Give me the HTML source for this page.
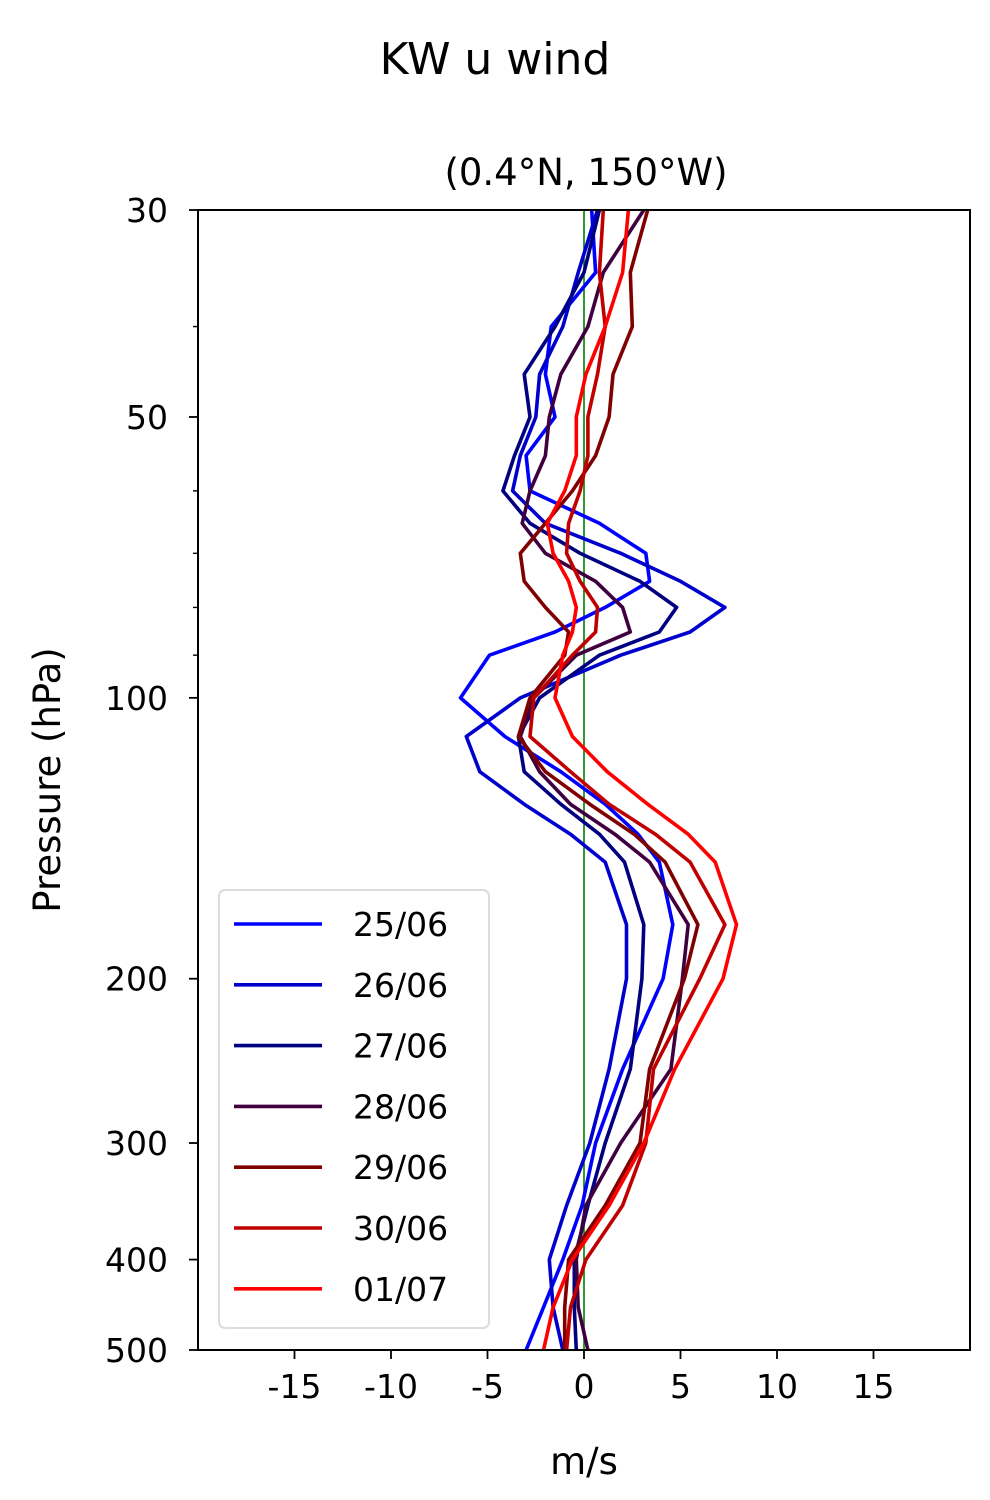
<!DOCTYPE html>
<html><head><meta charset="utf-8">
<style>
html,body{margin:0;padding:0;background:#fff;}
svg{display:block;font-family:"DejaVu Sans","Liberation Sans",sans-serif;}
</style></head>
<body>
<svg id="chart" width="990" height="1500" viewBox="0 0 990 1500" xmlns="http://www.w3.org/2000/svg">
<text x="495" y="74" font-size="44" text-anchor="middle">KW u wind</text>
<text x="586" y="185" font-size="37" text-anchor="middle">(0.4°N, 150°W)</text>
<g id="plot"></g>
<text x="584" y="1474" font-size="37" text-anchor="middle">m/s</text>
<text transform="translate(60,780) rotate(-90)" font-size="37" text-anchor="middle">Pressure (hPa)</text>
</svg>
<script>
const levels = [30,35,40,45,50,55,60,65,70,75,80,85,90,100,110,120,130,140,150,175,200,250,300,350,400,450,500];
const seriesNames = ["25/06","26/06","27/06","28/06","29/06","30/06","01/07"];
const seriesColors = ["#0000ff","#0000cc","#000080","#400040","#800000","#c00000","#ff0000"];
const u2506 = [0.4,0.6,-1.7,-2.0,-1.5,-3.0,-2.8,0.8,3.2,3.4,1.1,-1.5,-4.9,-6.4,-4.1,-1.2,1.1,2.8,3.9,4.6,4.1,2.0,0.6,-0.1,-1.1,-2.1,-3.0];
const u2606 = [0.7,-0.3,-1.1,-2.3,-2.5,-3.3,-3.7,-2.0,1.9,5.0,7.3,5.5,1.9,-3.3,-6.1,-5.4,-3.1,-0.7,1.1,2.2,2.2,1.3,0.3,-0.9,-1.8,-1.6,-1.1];
const u2706 = [0.8,0.0,-1.5,-3.1,-2.8,-3.6,-4.2,-2.8,-0.2,2.9,4.8,3.9,0.8,-2.3,-3.4,-3.1,-1.2,0.8,2.1,3.1,3.0,2.4,1.1,0.2,-0.5,-0.5,-0.4];
const u2806 = [3.1,1.0,0.2,-1.2,-1.8,-2.0,-2.8,-3.2,-2.0,0.6,2.0,2.4,-0.4,-2.6,-3.3,-2.3,-0.7,1.6,3.4,5.4,5.1,4.5,1.9,0.1,-0.4,-0.3,0.2];
const u2906 = [3.3,2.4,2.5,1.5,1.3,0.6,-0.6,-2.0,-3.3,-3.1,-2.0,-0.8,-1.0,-2.8,-3.4,-2.0,0.3,2.6,4.2,5.9,5.2,3.4,2.9,1.1,-0.8,-1.0,-1.0];
const u3006 = [1.0,0.8,1.1,0.7,0.2,0.2,-0.2,-0.8,-0.9,-0.2,0.7,0.6,-0.6,-2.6,-2.8,-0.7,1.3,3.7,5.5,7.3,6.0,3.6,3.2,2.0,0.1,-0.7,-0.9];
const u0107 = [2.3,2.0,1.1,0.1,-0.4,-0.4,-1.0,-1.9,-1.6,-0.8,-0.4,-0.6,-1.1,-1.5,-0.6,1.2,3.3,5.4,6.8,7.9,7.2,4.7,3.1,1.3,-0.6,-1.6,-2.1];
const xTicks = [-15,-10,-5,0,5,10,15];
const yTicks = [30,50,100,200,300,400,500];
const yMinor = [40,60,70,80,90];

const allSeries = [u2506,u2606,u2706,u2806,u2906,u3006,u0107];
const L=198,R=970,T=210,B=1350, XMIN=-20, XMAX=20, PMIN=30, PMAX=500;
const xs = v => L + (v - XMIN) / (XMAX - XMIN) * (R - L);
const ys = p => T + Math.log10(p / PMIN) / Math.log10(PMAX / PMIN) * (B - T);
const NS="http://www.w3.org/2000/svg";
const g=document.getElementById('plot');
function mk(tag, attrs){const e=document.createElementNS(NS,tag);for(const k in attrs)e.setAttribute(k,attrs[k]);return e;}

const clip=mk('clipPath',{id:'clipArea'});
clip.appendChild(mk('rect',{x:L,y:T,width:R-L,height:B-T}));
g.appendChild(clip);

const zero=mk('line',{x1:xs(0),x2:xs(0),y1:T,y2:B,stroke:'#008000','stroke-width':1.6});


g.appendChild(zero);

allSeries.forEach((s,i)=>{
  const pts=s.map((v,j)=>xs(v).toFixed(1)+','+ys(levels[j]).toFixed(1)).join(' ');
  const pl=mk('polyline',{points:pts,fill:'none',stroke:seriesColors[i],'stroke-width':3.6,'stroke-linejoin':'round','clip-path':'url(#clipArea)'});
  
  
  g.appendChild(pl);
});

const frame=mk('rect',{x:L,y:T,width:R-L,height:B-T,fill:'none',stroke:'#000','stroke-width':2});


g.appendChild(frame);

xTicks.forEach(t=>{
  const x=xs(t);
  const tk=mk('line',{x1:x,x2:x,y1:B,y2:B+9,stroke:'#000','stroke-width':1.8});
  
  
  g.appendChild(tk);
  const tx=mk('text',{x:x,y:B+48,'font-size':33,'text-anchor':'middle'});
  
  
  tx.textContent=String(t);
  g.appendChild(tx);
});
yTicks.forEach(t=>{
  const y=ys(t);
  const tk=mk('line',{x1:L-9,x2:L,y1:y,y2:y,stroke:'#000','stroke-width':1.8});
  
  
  g.appendChild(tk);
  const tx=mk('text',{x:L-30,y:y+12,'font-size':33,'text-anchor':'end'});
  
  
  tx.textContent=String(t);
  g.appendChild(tx);
});
yMinor.forEach(t=>{
  const y=ys(t);
  const tk=mk('line',{x1:L-5,x2:L,y1:y,y2:y,stroke:'#000','stroke-width':1.4});
  
  
  g.appendChild(tk);
});

const leg=mk('g',{});


leg.appendChild(mk('rect',{x:219,y:890,width:270,height:438,rx:6,fill:'#fff','fill-opacity':0.8,stroke:'#dcdcdc','stroke-width':2}));
seriesNames.forEach((n,i)=>{
  const y=924+i*60.8;
  const e=mk('g',{});
  
  
  e.appendChild(mk('line',{x1:234,x2:322,y1:y,y2:y,stroke:seriesColors[i],'stroke-width':3.6}));
  const t=mk('text',{x:353,y:y+12,'font-size':33});
  t.textContent=n;
  e.appendChild(t);
  leg.appendChild(e);
});
g.appendChild(leg);
</script>
</body></html>
